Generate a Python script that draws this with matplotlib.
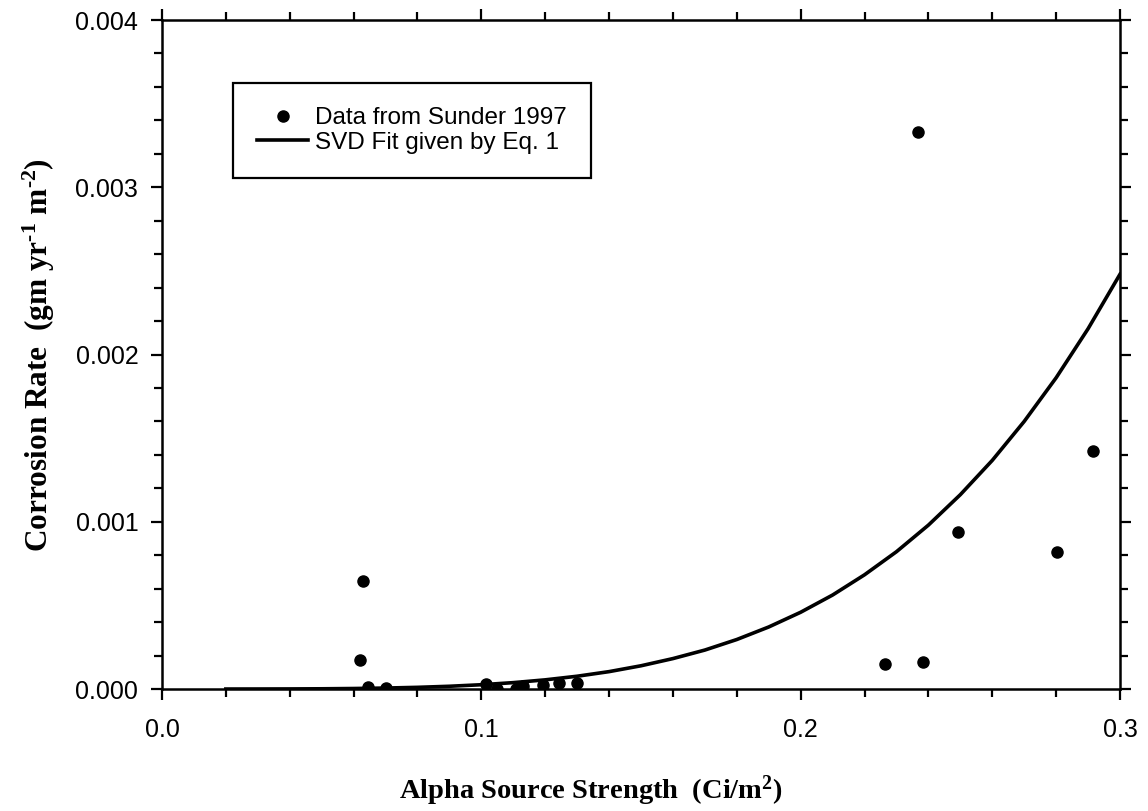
import matplotlib
matplotlib.use("Agg")
import matplotlib.pyplot as plt
from matplotlib.ticker import MultipleLocator, FormatStrFormatter

# Sunder 1997 measurements: alpha source strength (Ci/m^2) vs corrosion rate (gm/yr/m^2)
alpha_strength = [0.0621, 0.0630, 0.0646, 0.0702, 0.1014, 0.1050, 0.1109, 0.1132,
                  0.1194, 0.1244, 0.1300, 0.2264, 0.2369, 0.2382, 0.2492, 0.2804, 0.2916]
corrosion_rate = [0.000171, 0.000647, 0.000010, 0.000005, 0.000030, 0.000000, 0.000000,
                  0.000020, 0.000024, 0.000034, 0.000034, 0.000147, 0.003331, 0.000161,
                  0.000938, 0.000818, 0.001422]

# SVD fit (Eq. 1) sampled along the source strength axis
fit_x = [0.02, 0.03, 0.04, 0.05, 0.06, 0.07, 0.08, 0.09, 0.10, 0.11, 0.12, 0.13, 0.14, 0.15,
         0.16, 0.17, 0.18, 0.19, 0.20, 0.21, 0.22, 0.23, 0.24, 0.25, 0.26, 0.27, 0.28, 0.29, 0.30]
fit_y = [0.0, 0.0000002, 0.0000006, 0.0000014, 0.0000031, 0.0000058, 0.0000101, 0.0000165,
         0.0000257, 0.0000382, 0.0000549, 0.0000765, 0.000104, 0.000139, 0.000182, 0.000233,
         0.000296, 0.000371, 0.000459, 0.000562, 0.000683, 0.000821, 0.000980, 0.001162,
         0.001367, 0.001600, 0.001861, 0.002154, 0.002480]

plt.rcParams["font.family"] = ["Liberation Sans", "DejaVu Sans"]
plt.rcParams["mathtext.fontset"] = "custom"
plt.rcParams["mathtext.rm"] = "Liberation Serif:bold"
plt.rcParams["mathtext.it"] = "Liberation Serif:bold"
plt.rcParams["mathtext.bf"] = "Liberation Serif:bold"

fig = plt.figure(figsize=(11.48, 8.11), dpi=100)
ax = fig.add_axes([0.1411, 0.1504, 0.9756 - 0.1411, 0.9753 - 0.1504])

ax.plot(alpha_strength, corrosion_rate, "o", color="black", markersize=8,
        label="Data from Sunder 1997")
ax.plot(fit_x, fit_y, "-", color="black", linewidth=2.6,
        label="SVD Fit given by Eq. 1")

ax.set_xlim(0.0, 0.3)
ax.set_ylim(0.0, 0.004)
ax.xaxis.set_major_locator(MultipleLocator(0.1))
ax.xaxis.set_minor_locator(MultipleLocator(0.02))
ax.yaxis.set_major_locator(MultipleLocator(0.001))
ax.yaxis.set_minor_locator(MultipleLocator(0.0002))
ax.xaxis.set_major_formatter(FormatStrFormatter("%.1f"))
ax.yaxis.set_major_formatter(FormatStrFormatter("%.3f"))

for side in ax.spines.values():
    side.set_linewidth(1.8)
ax.tick_params(which="both", direction="out", top=True, right=True, width=1.6,
               labelsize=18)
ax.tick_params(which="major", length=8, pad=9)
ax.tick_params(which="minor", length=5.5)
ax.tick_params(axis="x", which="major", pad=13)

ax.set_xlabel(r"Alpha Source Strength  (Ci/m$^2$)", family="Liberation Serif",
              fontweight="bold", fontsize=20.5)
ax.xaxis.set_label_coords(0.448, -0.127)
ax.set_ylabel(r"Corrosion Rate  (gm yr$^{\text{-1}}$ m$^{\text{-2}}$)",
              family="Liberation Serif", fontweight="bold", fontsize=22.5)
ax.yaxis.set_label_coords(-0.11, 0.5)

leg = ax.legend(loc="upper left", bbox_to_anchor=(0.0738, 0.9058), fontsize=17.5,
                frameon=True, fancybox=False, edgecolor="black", framealpha=1,
                handlelength=2.1, handletextpad=0.3, borderpad=1.0, labelspacing=0.1,
                borderaxespad=0)
leg.get_frame().set_linewidth(1.6)

fig.savefig("out.png", dpi=100)
